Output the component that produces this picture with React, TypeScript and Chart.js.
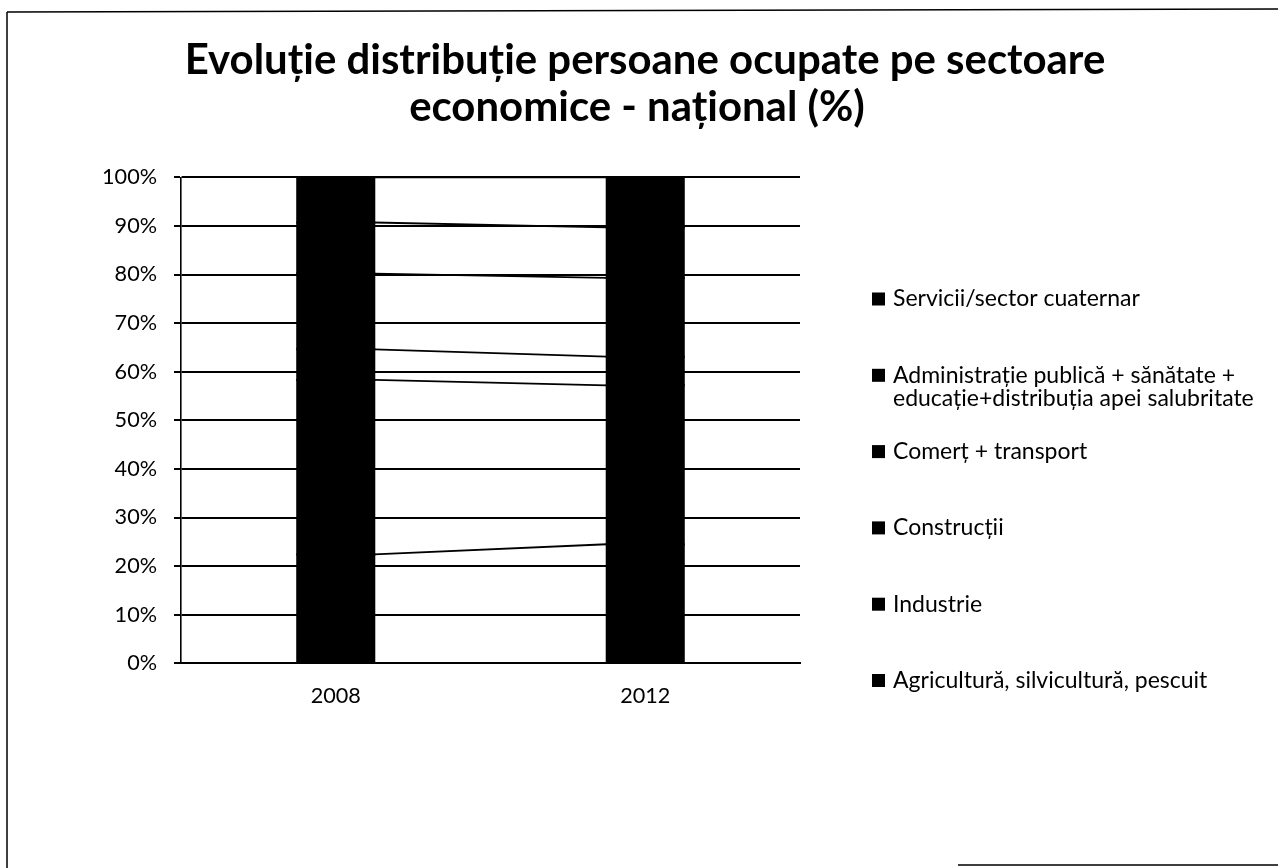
import React, { useEffect, useRef } from 'react';
import { Chart, registerables } from 'chart.js';

Chart.register(...registerables);

// ---------- data ----------
const categories = ['2008', '2012'];
const seriesNames = [
  'Agricultură, silvicultură, pescuit',
  'Industrie',
  'Construcții',
  'Comerț + transport',
  'Administrație publică + sănătate + educație+distribuția apei salubritate',
  'Servicii/sector cuaternar',
];
const agricultura = [22.4, 24.5];
const industrie = [35.9, 32.7];
const constructii = [6.3, 5.9];
const comert = [15.6, 16.2];
const administratie = [10.5, 10.4];
const servicii = [9.3, 10.3];
const seriesValues = [agricultura, industrie, constructii, comert, administratie, servicii];
const titleLines = ['Evoluție distribuție persoane ocupate pe sectoare', 'economice - național (%)'];
const yMin = 0;
const yMax = 100;
const yStep = 10;

const FAM = 'Lato, "Open Sans", sans-serif';
const W = 1278;
const H = 868;

function fitSize(text: string, weight: string, target: number): number {
  const c = document.createElement('canvas').getContext('2d') as CanvasRenderingContext2D;
  c.font = `${weight} 100px ${FAM}`;
  const w = c.measureText(text).width;
  return (100 * target) / w;
}

function wrap(ctx: CanvasRenderingContext2D, text: string, maxW: number): string[] {
  const words = text.split(' ');
  const lines: string[] = [];
  let cur = '';
  for (const w of words) {
    const t = cur ? cur + ' ' + w : w;
    if (ctx.measureText(t).width > maxW && cur) {
      lines.push(cur);
      cur = w;
    } else cur = t;
  }
  if (cur) lines.push(cur);
  return lines;
}

export default function App() {
  const ref = useRef<HTMLCanvasElement | null>(null);

  useEffect(() => {
    document.body.style.margin = '0';
    document.body.style.overflow = 'hidden';
    const canvas = ref.current;
    if (!canvas) return;

    const titleSize = fitSize(titleLines[0], 'bold', 921);
    const tickSize = fitSize('100%', 'normal', 55);
    const legendSize = fitSize('Servicii/sector cuaternar', 'normal', 247);

    const framePlugin = {
      id: 'frame',
      beforeDraw(chart: any) {
        const ctx = chart.ctx as CanvasRenderingContext2D;
        ctx.save();
        ctx.fillStyle = '#fff';
        ctx.fillRect(0, 0, W, H);
        ctx.strokeStyle = '#000';
        ctx.lineWidth = 1.5;
        ctx.beginPath();
        ctx.moveTo(7, 12);
        ctx.lineTo(W, 9);
        ctx.moveTo(7, 12);
        ctx.lineTo(7, H);
        ctx.moveTo(958, 865);
        ctx.lineTo(W, 865);
        ctx.stroke();
        ctx.restore();
      },
    };

    const titlePlugin = {
      id: 'customTitle',
      afterDraw(chart: any) {
        const ctx = chart.ctx as CanvasRenderingContext2D;
        ctx.save();
        ctx.fillStyle = '#000';
        ctx.font = `bold ${titleSize}px ${FAM}`;
        ctx.textAlign = 'center';
        ctx.textBaseline = 'alphabetic';
        ctx.fillText(titleLines[0], 645, 74);
        ctx.fillText(titleLines[1], 637, 121);
        ctx.restore();
      },
    };

    const seriesLinesPlugin = {
      id: 'seriesLines',
      afterDatasetsDraw(chart: any) {
        const ctx = chart.ctx as CanvasRenderingContext2D;
        ctx.save();
        ctx.strokeStyle = '#000';
        ctx.lineWidth = 1.8;
        chart.data.datasets.forEach((_d: any, i: number) => {
          const meta = chart.getDatasetMeta(i);
          for (let j = 0; j < meta.data.length - 1; j++) {
            const a = meta.data[j].getProps(['x', 'y', 'width'], true);
            const b = meta.data[j + 1].getProps(['x', 'y', 'width'], true);
            ctx.beginPath();
            ctx.moveTo(a.x + a.width / 2, a.y);
            ctx.lineTo(b.x - b.width / 2, b.y);
            ctx.stroke();
          }
        });
        ctx.restore();
      },
    };

    const legendPlugin = {
      id: 'sideLegend',
      afterDraw(chart: any) {
        const ctx = chart.ctx as CanvasRenderingContext2D;
        const ds = chart.data.datasets;
        const n = ds.length;
        ctx.save();
        ctx.font = `${legendSize}px ${FAM}`;
        ctx.textBaseline = 'middle';
        ctx.textAlign = 'left';
        ctx.fillStyle = '#000';
        for (let k = 0; k < n; k++) {
          const d = ds[n - 1 - k];
          const y = 299 + k * 76.3;
          ctx.fillRect(872, y - 6.5, 13, 13);
          const lines = wrap(ctx, d.label, 383);
          lines.forEach((ln, i) => ctx.fillText(ln, 893, y + i * 23.5));
        }
        ctx.restore();
      },
    };

    const chart = new Chart(canvas, {
      type: 'bar',
      data: {
        labels: categories,
        datasets: seriesNames.map((name, i) => ({
          label: name,
          data: seriesValues[i],
          backgroundColor: '#000',
          borderColor: '#000',
          borderWidth: 0,
          inflateAmount: 1,
          barPercentage: 0.249,
          categoryPercentage: 1,
        })),
      },
      options: {
        responsive: false,
        animation: false,
        devicePixelRatio: 1,
        layout: { padding: { left: 0, top: 177.3, right: 478, bottom: 164.7 } },
        plugins: {
          legend: { display: false },
          title: { display: false },
          tooltip: { enabled: false },
        },
        scales: {
          x: {
            stacked: true,
            grid: { display: false, drawTicks: false },
            border: { display: true, color: '#000', width: 2 },
            ticks: {
              color: '#000',
              font: { family: FAM, size: tickSize },
              padding: 20,
            },
            afterFit: (scale: any) => {
              scale.height = 40;
            },
          },
          y: {
            stacked: true,
            min: yMin,
            max: yMax,
            grid: { color: '#000', lineWidth: 2, tickLength: 7, tickColor: '#000', drawTicks: true },
            border: { display: true, color: '#000', width: 1.6 },
            ticks: {
              stepSize: yStep,
              color: '#000',
              font: { family: FAM, size: tickSize },
              padding: 17,
              callback: (v: any) => `${v}%`,
            },
            afterFit: (scale: any) => {
              scale.width = 181;
            },
          },
        },
      } as any,
      plugins: [framePlugin, seriesLinesPlugin, titlePlugin, legendPlugin],
    });

    return () => chart.destroy();
  }, []);

  return (
    <div style={{ width: W, height: H, position: 'relative' }}>
      <canvas ref={ref} width={W} height={H} style={{ display: 'block', width: W, height: H }} />
    </div>
  );
}
